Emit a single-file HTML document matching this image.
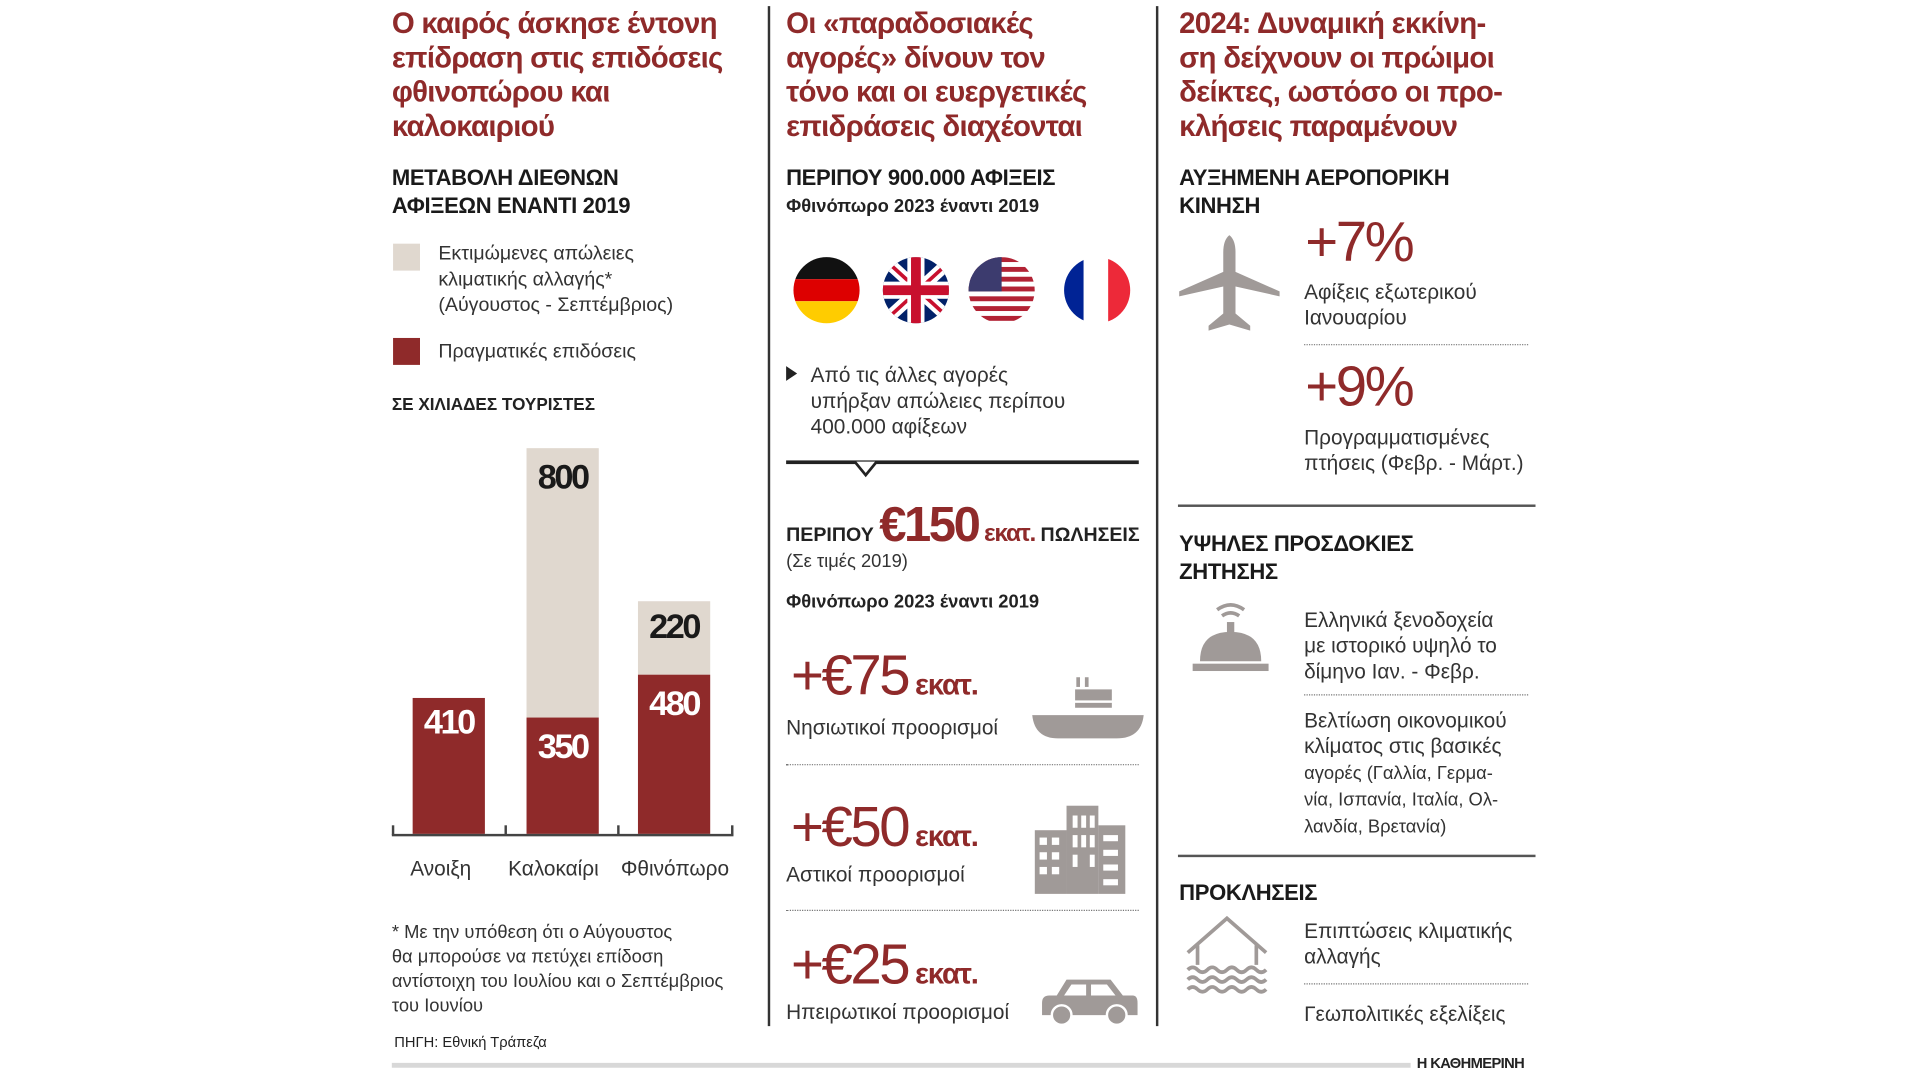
<!DOCTYPE html>
<html><head><meta charset="utf-8"><style>
html,body{margin:0;padding:0;background:#fff;width:1920px;height:1080px;overflow:hidden}
#w{position:absolute;left:0;top:0;width:1568px;height:882px;transform:scale(1.22449);transform-origin:0 0;font-family:"Liberation Sans","DejaVu Sans",sans-serif;color:#222}
.a{position:absolute;white-space:nowrap}
.t{color:#8f2a2a;font-weight:bold;font-size:24px;line-height:28px;letter-spacing:-0.6px}
.h{font-weight:bold;font-size:18px;line-height:23px;letter-spacing:-0.3px;color:#1a1a1a}
.s{font-size:16px;line-height:21px;color:#333}
.r{color:#8f2a2a}
.dot{position:absolute;border-top:1.5px dotted #777;height:0}
.line{position:absolute;background:#555;height:1.5px}
.big{font-size:46px;color:#8f2a2a;letter-spacing:-2px;line-height:50px}
.ek{font-size:24px;font-weight:bold;letter-spacing:-1px}
</style></head><body><div id="w">
<!-- dividers -->
<div style="position:absolute;left:627px;top:5px;width:2px;height:833px;background:#333"></div>
<div style="position:absolute;left:944px;top:5px;width:2px;height:833px;background:#333"></div>

<!-- column 1 -->
<div class="a t" style="left:320px;top:6px">Ο καιρός άσκησε έντονη<br>επίδραση στις επιδόσεις<br>φθινοπώρου και<br>καλοκαιριού</div>
<div class="a h" style="left:320px;top:134px">ΜΕΤΑΒΟΛΗ ΔΙΕΘΝΩΝ<br>ΑΦΙΞΕΩΝ ΕΝΑΝΤΙ 2019</div>
<div style="position:absolute;left:321px;top:199px;width:22px;height:22px;background:#e0d8cf"></div>
<div class="a s" style="left:358px;top:197px">Εκτιμώμενες απώλειες<br>κλιματικής αλλαγής*<br>(Αύγουστος - Σεπτέμβριος)</div>
<div style="position:absolute;left:321px;top:276px;width:22px;height:22px;background:#8f2a2a"></div>
<div class="a s" style="left:358px;top:277px">Πραγματικές επιδόσεις</div>
<div class="a" style="left:320px;top:322px;font-weight:bold;font-size:14px">ΣΕ ΧΙΛΙΑΔΕΣ ΤΟΥΡΙΣΤΕΣ</div>
<!-- bars -->
<div style="position:absolute;left:337px;top:570px;width:59px;height:111px;background:#8f2a2a"></div>
<div style="position:absolute;left:430px;top:366px;width:59px;height:220px;background:#e0d8cf"></div>
<div style="position:absolute;left:430px;top:586px;width:59px;height:95px;background:#8f2a2a"></div>
<div style="position:absolute;left:521px;top:491px;width:59px;height:60px;background:#e0d8cf"></div>
<div style="position:absolute;left:521px;top:551px;width:59px;height:130px;background:#8f2a2a"></div>
<div style="position:absolute;left:320px;top:681px;width:279px;height:1.5px;background:#444"></div>
<div style="position:absolute;left:320px;top:674px;width:1.5px;height:8px;background:#444"></div>
<div style="position:absolute;left:412px;top:674px;width:1.5px;height:8px;background:#444"></div>
<div style="position:absolute;left:504px;top:674px;width:1.5px;height:8px;background:#444"></div>
<div style="position:absolute;left:597px;top:674px;width:1.5px;height:8px;background:#444"></div>
<div class="a" style="left:337px;width:59px;text-align:center;top:574px;color:#fff;font-weight:bold;font-size:28px;letter-spacing:-2px">410</div>
<div class="a" style="left:430px;width:59px;text-align:center;top:374px;color:#1a1a1a;font-weight:bold;font-size:28px;letter-spacing:-2px">800</div>
<div class="a" style="left:430px;width:59px;text-align:center;top:594px;color:#fff;font-weight:bold;font-size:28px;letter-spacing:-2px">350</div>
<div class="a" style="left:521px;width:59px;text-align:center;top:496px;color:#1a1a1a;font-weight:bold;font-size:28px;letter-spacing:-2px">220</div>
<div class="a" style="left:521px;width:59px;text-align:center;top:559px;color:#fff;font-weight:bold;font-size:28px;letter-spacing:-2px">480</div>
<div class="a s" style="left:335px;top:699px;font-size:17px">Ανοιξη</div>
<div class="a s" style="left:415px;top:699px;font-size:17px">Καλοκαίρι</div>
<div class="a s" style="left:507px;top:699px;font-size:17px">Φθινόπωρο</div>
<div class="a s" style="left:320px;top:752px;font-size:15px;line-height:20px">* Με την υπόθεση ότι ο Αύγουστος<br>θα μπορούσε να πετύχει επίδοση<br>αντίστοιχη του Ιουλίου και ο Σεπτέμβριος<br>του Ιουνίου</div>
<div class="a" style="left:322px;top:844px;font-size:12px">ΠΗΓΗ: Εθνική Τράπεζα</div>

<!-- column 2 -->
<div class="a t" style="left:642px;top:6px">Οι «παραδοσιακές<br>αγορές» δίνουν τον<br>τόνο και οι ευεργετικές<br>επιδράσεις διαχέονται</div>
<div class="a h" style="left:642px;top:134px">ΠΕΡΙΠΟΥ 900.000 ΑΦΙΞΕΙΣ</div>
<div class="a" style="left:642px;top:160px;font-weight:bold;font-size:15px">Φθινόπωρο 2023 έναντι 2019</div>
<svg style="position:absolute;left:640px;top:205px" width="300" height="64" viewBox="0 0 300 64">
<defs><clipPath id="c1"><circle cx="35" cy="32" r="27"/></clipPath><clipPath id="c2"><circle cx="108" cy="32" r="27"/></clipPath><clipPath id="c3"><circle cx="178" cy="32" r="27"/></clipPath><clipPath id="c4"><circle cx="256" cy="32" r="27"/></clipPath></defs>
<g clip-path="url(#c1)"><rect x="0" y="0" width="70" height="23" fill="#111"/><rect x="0" y="23" width="70" height="18" fill="#d00"/><rect x="0" y="41" width="70" height="25" fill="#fc0"/></g>
<g clip-path="url(#c2)"><rect x="75" y="0" width="70" height="64" fill="#012169"/><path d="M75 0L145 64M145 0L75 64" stroke="#fff" stroke-width="10"/><path d="M75 0L145 64M145 0L75 64" stroke="#c8102e" stroke-width="3"/><rect x="75" y="25" width="70" height="14" fill="#fff"/><rect x="101" y="0" width="14" height="64" fill="#fff"/><rect x="75" y="28" width="70" height="8" fill="#c8102e"/><rect x="104" y="0" width="8" height="64" fill="#c8102e"/></g>
<g clip-path="url(#c3)"><rect x="150" y="0" width="60" height="64" fill="#fff"/><g fill="#b22234"><rect x="150" y="5" width="60" height="4"/><rect x="150" y="13" width="60" height="4"/><rect x="150" y="21" width="60" height="4"/><rect x="150" y="29" width="60" height="4"/><rect x="150" y="37" width="60" height="4"/><rect x="150" y="45" width="60" height="4"/><rect x="150" y="53" width="60" height="4"/></g><rect x="150" y="0" width="28" height="33" fill="#3c3b6e"/></g>
<g clip-path="url(#c4)"><rect x="225" y="0" width="20" height="64" fill="#002395"/><rect x="245" y="0" width="20" height="64" fill="#fff"/><rect x="265" y="0" width="20" height="64" fill="#ed2939"/></g>
</svg>
<div class="a" style="left:642px;top:299px;width:0;height:0;border-left:9px solid #222;border-top:6px solid transparent;border-bottom:6px solid transparent"></div>
<div class="a s" style="left:662px;top:296px;font-size:17px">Από τις άλλες αγορές<br>υπήρξαν απώλειες περίπου<br>400.000 αφίξεων</div>
<div style="position:absolute;left:642px;top:376px;width:288px;height:2.5px;background:#222"></div>
<svg style="position:absolute;left:697px;top:376px" width="20" height="14"><path d="M1 1L10 12L19 1" fill="#fff" stroke="#222" stroke-width="2.2"/></svg>
<div class="a" style="left:642px;top:404px;font-weight:bold;font-size:16px;line-height:50px">ΠΕΡΙΠΟΥ <span class="r" style="font-size:40px;letter-spacing:-2px">€150</span><span class="r ek" style="font-size:20px"> εκατ.</span> ΠΩΛΗΣΕΙΣ</div>
<div class="a s" style="left:642px;top:448px;font-size:15px">(Σε τιμές 2019)</div>
<div class="a" style="left:642px;top:483px;font-weight:bold;font-size:15px">Φθινόπωρο 2023 έναντι 2019</div>

<div class="a big" style="left:646px;top:526px">+€75<span class="ek"> εκατ.</span></div>
<div class="a s" style="left:642px;top:584px;font-size:17px">Νησιωτικοί προορισμοί</div>
<svg style="position:absolute;left:842px;top:553px" width="95" height="52"><rect x="37" y="0" width="3" height="8" fill="#a09a98"/><rect x="44" y="0" width="3" height="8" fill="#a09a98"/><rect x="36" y="10" width="30" height="9" fill="#a09a98"/><rect x="36" y="21" width="30" height="4" fill="#a09a98"/><path d="M1 31H92Q90 50 70 50H22Q3 50 1 31Z" fill="#a09a98"/></svg>
<div class="dot" style="left:642px;top:624px;width:288px"></div>

<div class="a big" style="left:646px;top:650px">+€50<span class="ek"> εκατ.</span></div>
<div class="a s" style="left:642px;top:704px;font-size:17px">Αστικοί προορισμοί</div>
<svg style="position:absolute;left:845px;top:656px" width="78" height="76"><rect x="0" y="22" width="26" height="52" fill="#a09a98"/><rect x="26" y="2" width="26" height="72" fill="#a09a98"/><rect x="52" y="18" width="22" height="56" fill="#a09a98"/><g fill="#fff"><rect x="4" y="28" width="6" height="6"/><rect x="14" y="28" width="6" height="6"/><rect x="4" y="40" width="6" height="6"/><rect x="14" y="40" width="6" height="6"/><rect x="4" y="52" width="6" height="6"/><rect x="14" y="52" width="6" height="6"/><rect x="31" y="10" width="4" height="10"/><rect x="38" y="10" width="4" height="10"/><rect x="45" y="10" width="4" height="10"/><rect x="31" y="26" width="4" height="10"/><rect x="38" y="26" width="4" height="10"/><rect x="45" y="26" width="4" height="10"/><rect x="31" y="42" width="4" height="10"/><rect x="45" y="42" width="4" height="10"/><rect x="56" y="26" width="12" height="5"/><rect x="56" y="38" width="12" height="5"/><rect x="56" y="50" width="12" height="5"/><rect x="56" y="62" width="12" height="5"/></g></svg>
<div class="dot" style="left:642px;top:743px;width:288px"></div>

<div class="a big" style="left:646px;top:762px">+€25<span class="ek"> εκατ.</span></div>
<div class="a s" style="left:642px;top:816px;font-size:17px">Ηπειρωτικοί προορισμοί</div>
<svg style="position:absolute;left:849px;top:797px" width="82" height="42"><path d="M14 16L22 3H58L68 16H76Q80 16 80 22V32H2V22Q2 16 8 16Z" fill="#a09a98"/><path d="M26 7H38V16H20ZM42 7H55L62 16H42Z" fill="#fff"/><circle cx="18" cy="32" r="8" fill="#a09a98" stroke="#fff" stroke-width="2"/><circle cx="63" cy="32" r="8" fill="#a09a98" stroke="#fff" stroke-width="2"/></svg>

<!-- column 3 -->
<div class="a t" style="left:963px;top:6px">2024: Δυναμική εκκίνη-<br>ση δείχνουν οι πρώιμοι<br>δείκτες, ωστόσο οι προ-<br>κλήσεις παραμένουν</div>
<div class="a h" style="left:963px;top:134px">ΑΥΞΗΜΕΝΗ ΑΕΡΟΠΟΡΙΚΗ<br>ΚΙΝΗΣΗ</div>
<svg style="position:absolute;left:961px;top:192px" width="86" height="82"><path d="M43 0Q48 4 48 14V30L84 46V50L48 42V64L60 74V78L43 73L26 78V74L38 64V42L2 50V46L38 30V14Q38 4 43 0Z" fill="#a09a98"/></svg>
<div class="a big" style="left:1066px;top:172px">+7%</div>
<div class="a s" style="left:1065px;top:228px;font-size:17px">Αφίξεις εξωτερικού<br>Ιανουαρίου</div>
<div class="dot" style="left:1065px;top:281px;width:183px"></div>
<div class="a big" style="left:1066px;top:290px">+9%</div>
<div class="a s" style="left:1065px;top:347px;font-size:17px">Προγραμματισμένες<br>πτήσεις (Φεβρ. - Μάρτ.)</div>
<div class="line" style="left:962px;top:412px;width:292px"></div>
<div class="a h" style="left:963px;top:433px">ΥΨΗΛΕΣ ΠΡΟΣΔΟΚΙΕΣ<br>ΖΗΤΗΣΗΣ</div>
<svg style="position:absolute;left:972px;top:488px" width="66" height="66"><path d="M22 10Q33 2 44 10M26 15Q33 10 40 15" stroke="#a09a98" stroke-width="3" fill="none"/><rect x="30" y="20" width="6" height="10" fill="#a09a98"/><path d="M8 52Q8 28 33 28Q58 28 58 52Z" fill="#a09a98"/><rect x="2" y="54" width="62" height="6" fill="#a09a98"/></svg>
<div class="a s" style="left:1065px;top:496px;font-size:17px">Ελληνικά ξενοδοχεία<br>με ιστορικό υψηλό το<br>δίμηνο Ιαν. - Φεβρ.</div>
<div class="dot" style="left:1065px;top:567px;width:183px"></div>
<div class="a s" style="left:1065px;top:578px;font-size:17px">Βελτίωση οικονομικού<br>κλίματος στις βασικές<br><span style="font-size:15px">αγορές (Γαλλία, Γερμα-<br>νία, Ισπανία, Ιταλία, Ολ-<br>λανδία, Βρετανία)</span></div>
<div class="line" style="left:962px;top:698px;width:292px"></div>
<div class="a h" style="left:963px;top:718px">ΠΡΟΚΛΗΣΕΙΣ</div>
<svg style="position:absolute;left:966px;top:748px" width="74" height="66"><path d="M4 30L36 2L68 30M12 24V40M60 24V40" stroke="#a09a98" stroke-width="3" fill="none"/><g stroke="#a09a98" stroke-width="3" fill="none"><path d="M4 44q4-4 8 0t8 0 8 0 8 0 8 0 8 0 8 0 8 0"/><path d="M4 52q4-4 8 0t8 0 8 0 8 0 8 0 8 0 8 0 8 0"/><path d="M4 60q4-4 8 0t8 0 8 0 8 0 8 0 8 0 8 0 8 0"/></g></svg>
<div class="a s" style="left:1065px;top:750px;font-size:17px">Επιπτώσεις κλιματικής<br>αλλαγής</div>
<div class="dot" style="left:1065px;top:803px;width:183px"></div>
<div class="a s" style="left:1065px;top:818px;font-size:17px">Γεωπολιτικές εξελίξεις</div>

<!-- footer -->
<div style="position:absolute;left:320px;top:868px;width:832px;height:4px;background:#d8d8d8"></div>
<div class="a" style="left:1157px;top:861px;font-weight:bold;font-size:12px;letter-spacing:-0.5px">Η ΚΑΘΗΜΕΡΙΝΗ</div>
</div></body></html>
